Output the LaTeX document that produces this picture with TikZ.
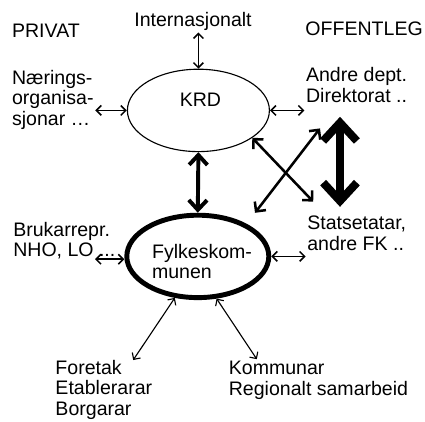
\documentclass[tikz,border=0pt]{standalone}
\usepackage{fontspec}
\setmainfont{Liberation Sans}
\usepackage{tikz}
\usetikzlibrary{shapes.geometric, arrows.meta, positioning}

\begin{document}
\begin{tikzpicture}[
    txt/.style = {font=\fontsize{13.9}{14.5}\selectfont, align=left, inner sep=1pt},
    body/.style = {ellipse, draw=black, minimum width=3.55cm, minimum height=2.06cm, inner sep=0pt},
    thinarrow/.style = {draw=black, line width=1.1pt, >={Straight Barb[length=3.5pt, width=7pt]}, <->},
    finearrow/.style = {draw=black, line width=0.8pt, >={Straight Barb[length=3.5pt, width=7pt]}, <->},
    midarrow/.style = {draw=black, line width=1.8pt, >={Straight Barb[length=5pt, width=10pt]}, <->},
    boldarrow/.style = {draw=black, line width=2.8pt, >={Straight Barb[length=7pt, width=13pt]}, <->},
    hugearrow/.style = {draw=black, line width=5.7pt, >={Straight Barb[length=13pt, width=24pt]}, <->}
]
\useasboundingbox (0,0) rectangle (10.625,-10.525);

% Headings
\node (privat) [txt, anchor=base west] at (0.26, -0.93) {PRIVAT};
\node (intl) [txt, anchor=base] at (4.825, -0.667) {Internasjonalt};
\node (offentleg) [txt, anchor=base west] at (7.595, -0.893) {OFFENTLEG};

% KRD level (multi-line nodes sit on their last line)
\node (naering) [txt, anchor=base west] at (0.26, -3.125) {Nærings-\\organisa-\\sjonar …};
\node (andre) [txt, anchor=base west] at (7.61, -2.55) {Andre dept.\\Direktorat ..};
\node (krd) [body, line width=0.8pt] at (4.96, -2.76) {};
\node (krdtxt) [txt, anchor=base] at (5.01, -2.65) {KRD};

% Fylkeskommunen level
\node (bruk) [txt, anchor=base west] at (0.29, -6.42) {Brukarrepr.\\NHO, LO ...};
\node (stats) [txt, anchor=base west] at (7.64, -6.25) {Statsetatar,\\andre FK ..};
\node (fylke) [body, line width=3.5pt] at (4.945, -6.41) {};
\node (fylketxt) [txt, anchor=base west] at (3.76, -6.96) {Fylkeskom-\\munen};

% Bottom
\node (foretak) [txt, anchor=base west] at (1.345, -10.375) {Foretak\\Etablerarar\\Borgarar};
\node (kommunar) [txt, anchor=base west] at (5.68, -9.875) {Kommunar\\Regionalt samarbeid};

% Free arrow ends
\coordinate (xa) at (7.83, -5.04);
\coordinate (xb1) at (8.0, -3.21);
\coordinate (xb2) at (6.375, -5.32);
\coordinate (tk1) at (8.5, -2.92);
\coordinate (tk2) at (8.5, -5.17);
\coordinate (bk) at (2.375, -6.48);
\coordinate (fa) at (3.33, -9.0);
\coordinate (ka) at (6.42, -8.98);

\draw [thinarrow] (krd.north |- intl.south) -- (krd.north);
\draw [thinarrow] (naering.east |- krd.west) -- (krd.west);
\draw [thinarrow] (krd.east) -- (krd.east -| andre.west);

\draw [midarrow] (krd.-27) -- (xa);
\draw [midarrow] (xb1) -- (xb2);
\draw [hugearrow] (tk1) -- (tk2);
\draw [boldarrow] (krd.south) -- (fylke.north);

\draw [thinarrow] (bk) -- (bk -| fylke.west);
\draw [thinarrow] (fylke.east) -- (fylke.east -| stats.west);

\draw [finearrow] (fylke.241) -- (fa);
\draw [finearrow] (fylke.294) -- (ka);

\end{tikzpicture}
\end{document}
